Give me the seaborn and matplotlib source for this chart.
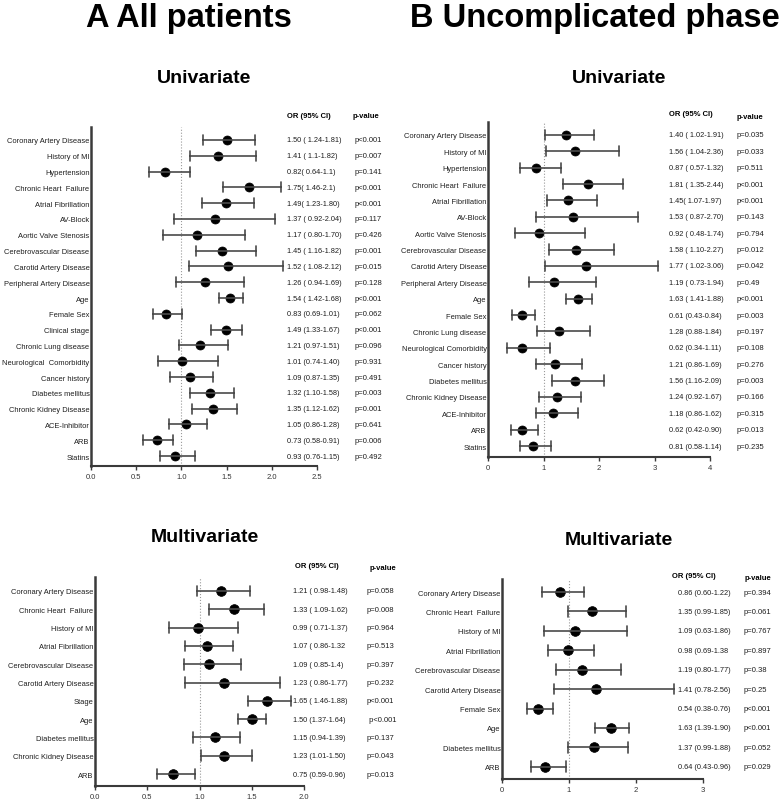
import numpy as np
import pandas as pd
import matplotlib
matplotlib.use("Agg")
import matplotlib.pyplot as plt
import matplotlib.transforms as mtransforms
import seaborn as sns

# A - All patients, univariate
a_uni_labels = ["Coronary Artery Disease", "History of MI", "Hypertension", "Chronic Heart  Failure",
                "Atrial Fibrillation", "AV-Block", "Aortic Valve Stenosis", "Cerebrovascular Disease",
                "Carotid Artery Disease", "Peripheral Artery Disease", "Age", "Female Sex", "Clinical stage",
                "Chronic Lung disease", "Neurological  Comorbidity", "Cancer history", "Diabetes mellitus",
                "Chronic Kidney Disease", "ACE-Inhibitor", "ARB", "Statins"]
a_uni_or = [1.50, 1.41, 0.82, 1.75, 1.49, 1.37, 1.17, 1.45, 1.52, 1.26, 1.54, 0.83, 1.49, 1.21, 1.01, 1.09,
            1.32, 1.35, 1.05, 0.73, 0.93]
a_uni_lo = [1.24, 1.10, 0.64, 1.46, 1.23, 0.92, 0.80, 1.16, 1.08, 0.94, 1.42, 0.69, 1.33, 0.97, 0.74, 0.87,
            1.10, 1.12, 0.86, 0.58, 0.76]
a_uni_hi = [1.81, 1.82, 1.10, 2.10, 1.80, 2.04, 1.70, 1.82, 2.12, 1.69, 1.68, 1.01, 1.67, 1.51, 1.40, 1.35,
            1.58, 1.62, 1.28, 0.91, 1.15]
a_uni_txt = ["1.50 ( 1.24-1.81)", "1.41 ( 1.1-1.82)", "0.82( 0.64-1.1)", "1.75( 1.46-2.1)", "1.49( 1.23-1.80)",
             "1.37 ( 0.92-2.04)", "1.17 ( 0.80-1.70)", "1.45 ( 1.16-1.82)", "1.52 ( 1.08-2.12)",
             "1.26 ( 0.94-1.69)", "1.54 ( 1.42-1.68)", "0.83 (0.69-1.01)", "1.49 (1.33-1.67)",
             "1.21 (0.97-1.51)", "1.01 (0.74-1.40)", "1.09 (0.87-1.35)", "1.32 (1.10-1.58)",
             "1.35 (1.12-1.62)", "1.05 (0.86-1.28)", "0.73 (0.58-0.91)", "0.93 (0.76-1.15)"]
a_uni_p = ["p<0.001", "p=0.007", "p=0.141", "p<0.001", "p<0.001", "p=0.117", "p=0.426", "p=0.001",
           "p=0.015", "p=0.128", "p<0.001", "p=0.062", "p<0.001", "p=0.096", "p=0.931", "p=0.491",
           "p=0.003", "p=0.001", "p=0.641", "p=0.006", "p=0.492"]

# B - Uncomplicated phase, univariate
b_uni_labels = ["Coronary Artery Disease", "History of MI", "Hypertension", "Chronic Heart  Failure",
                "Atrial Fibrillation", "AV-Block", "Aortic Valve Stenosis", "Cerebrovascular Disease",
                "Carotid Artery Disease", "Peripheral Artery Disease", "Age", "Female Sex",
                "Chronic Lung disease", "Neurological Comorbidity", "Cancer history", "Diabetes mellitus",
                "Chronic Kidney Disease", "ACE-Inhibitor", "ARB", "Statins"]
b_uni_or = [1.40, 1.56, 0.87, 1.81, 1.45, 1.53, 0.92, 1.58, 1.77, 1.19, 1.63, 0.61, 1.28, 0.62, 1.21, 1.56,
            1.24, 1.18, 0.62, 0.81]
b_uni_lo = [1.02, 1.04, 0.57, 1.35, 1.07, 0.87, 0.48, 1.10, 1.02, 0.73, 1.41, 0.43, 0.88, 0.34, 0.86, 1.16,
            0.92, 0.86, 0.42, 0.58]
b_uni_hi = [1.91, 2.36, 1.32, 2.44, 1.97, 2.70, 1.74, 2.27, 3.06, 1.94, 1.88, 0.84, 1.84, 1.11, 1.69, 2.09,
            1.67, 1.62, 0.90, 1.14]
b_uni_txt = ["1.40 ( 1.02-1.91)", "1.56 ( 1.04-2.36)", "0.87 ( 0.57-1.32)", "1.81 ( 1.35-2.44)",
             "1.45( 1.07-1.97)", "1.53 ( 0.87-2.70)", "0.92 ( 0.48-1.74)", "1.58 ( 1.10-2.27)",
             "1.77 ( 1.02-3.06)", "1.19 ( 0.73-1.94)", "1.63 ( 1.41-1.88)", "0.61 (0.43-0.84)",
             "1.28 (0.88-1.84)", "0.62 (0.34-1.11)", "1.21 (0.86-1.69)", "1.56 (1.16-2.09)",
             "1.24 (0.92-1.67)", "1.18 (0.86-1.62)", "0.62 (0.42-0.90)", "0.81 (0.58-1.14)"]
b_uni_p = ["p=0.035", "p=0.033", "p=0.511", "p<0.001", "p<0.001", "p=0.143", "p=0.794", "p=0.012",
           "p=0.042", "p=0.49", "p<0.001", "p=0.003", "p=0.197", "p=0.108", "p=0.276", "p=0.003",
           "p=0.166", "p=0.315", "p=0.013", "p=0.235"]

# A - All patients, multivariate
a_multi_labels = ["Coronary Artery Disease", "Chronic Heart  Failure", "History of MI", "Atrial Fibrillation",
                  "Cerebrovascular Disease", "Carotid Artery Disease", "Stage", "Age", "Diabetes mellitus",
                  "Chronic Kidney Disease", "ARB"]
a_multi_or = [1.21, 1.33, 0.99, 1.07, 1.09, 1.23, 1.65, 1.50, 1.15, 1.23, 0.75]
a_multi_lo = [0.98, 1.09, 0.71, 0.86, 0.85, 0.86, 1.46, 1.37, 0.94, 1.01, 0.59]
a_multi_hi = [1.48, 1.62, 1.37, 1.32, 1.40, 1.77, 1.88, 1.64, 1.39, 1.50, 0.96]
a_multi_txt = ["1.21 ( 0.98-1.48)", "1.33 ( 1.09-1.62)", "0.99 ( 0.71-1.37)", "1.07 ( 0.86-1.32",
               "1.09 ( 0.85-1.4)", "1.23 ( 0.86-1.77)", "1.65 ( 1.46-1.88)", "1.50 (1.37-1.64)",
               "1.15 (0.94-1.39)", "1.23 (1.01-1.50)", "0.75 (0.59-0.96)"]
a_multi_p = ["p=0.058", "p=0.008", "p=0.964", "p=0.513", "p=0.397", "p=0.232", "p<0.001", " p<0.001",
             "p=0.137", "p=0.043", "p=0.013"]

# B - Uncomplicated phase, multivariate
b_multi_labels = ["Coronary Artery Disease", "Chronic Heart  Failure", "History of MI", "Atrial Fibrillation",
                  "Cerebrovascular Disease", "Carotid Artery Disease", "Female Sex", "Age", "Diabetes mellitus",
                  "ARB"]
b_multi_or = [0.86, 1.35, 1.09, 0.98, 1.19, 1.41, 0.54, 1.63, 1.37, 0.64]
b_multi_lo = [0.60, 0.99, 0.63, 0.69, 0.80, 0.78, 0.38, 1.39, 0.99, 0.43]
b_multi_hi = [1.22, 1.85, 1.86, 1.38, 1.77, 2.56, 0.76, 1.90, 1.88, 0.96]
b_multi_txt = ["0.86 (0.60-1.22)", "1.35 (0.99-1.85)", "1.09 (0.63-1.86)", "0.98 (0.69-1.38",
               "1.19 (0.80-1.77)", "1.41 (0.78-2.56)", "0.54 (0.38-0.76)", "1.63 (1.39-1.90)",
               "1.37 (0.99-1.88)", "0.64 (0.43-0.96)"]
b_multi_p = ["p=0.394", "p=0.061", "p=0.767", "p=0.897", "p=0.38", "p=0.25", "p<0.001", "p<0.001",
             "p=0.052", "p=0.029"]

ticks_a_uni = [0.0, 0.5, 1.0, 1.5, 2.0, 2.5]
ticks_b_uni = [0, 1, 2, 3, 4]
ticks_a_multi = [0.0, 0.5, 1.0, 1.5, 2.0]
ticks_b_multi = [0, 1, 2, 3]

W, H = 784, 804
sns.set_style("ticks")
plt.rcParams['font.family'] = ['Liberation Sans', 'DejaVu Sans']

fig = plt.figure(figsize=(W / 100, H / 100), dpi=100)


def px_axes(left, right, top, bottom):
    return fig.add_axes([left / W, 1 - bottom / H, (right - left) / W, (bottom - top) / H])


def forest(ax, labels, ors, lo, hi, ticks, tick_fmt, ylim, txt, pvals, or_x, p_x, cap, mk):
    long = pd.DataFrame({
        "variable": np.repeat(labels, 3),
        "value": np.column_stack([lo, ors, hi]).ravel(),
    })
    # median of (lo, OR, hi) is the OR, full range is the CI
    sns.pointplot(data=long, x="value", y="variable", order=labels, orient="h",
                  estimator="median", errorbar=("pi", 100), color="black",
                  linestyle="none", markers="o", markersize=mk, markeredgewidth=0.5,
                  capsize=cap, err_kws={"linewidth": 1.2}, zorder=3, ax=ax)
    for ln in ax.lines:
        if ln.get_marker() in ("None", "", None, " "):
            ln.set_color("#4a4a4a")
            ln.set_linewidth(1.2)
    ax.axvline(1, color="#9a9a9a", ls=":", lw=0.8, zorder=1)
    ax.set_xlim(0, ticks[-1])
    ax.set_ylim(*ylim)
    ax.set_xticks(ticks)
    ax.set_xticklabels([tick_fmt.format(t) for t in ticks])
    ax.set_xlabel("")
    ax.set_ylabel("")
    sns.despine(ax=ax)
    ax.spines["left"].set_linewidth(1.8)
    ax.spines["left"].set_color("#3a3a3a")
    ax.spines["bottom"].set_linewidth(1.5)
    ax.spines["bottom"].set_color("#3a3a3a")
    ax.tick_params(axis="y", length=0, pad=1, labelsize=5.4, labelcolor="#1e1e1e")
    ax.tick_params(axis="x", length=3, width=1, color="#3a3a3a", pad=2, labelsize=5.5,
                   labelcolor="#333333")
    trans = mtransforms.blended_transform_factory(fig.transFigure, ax.transData)
    for i in range(len(labels)):
        ax.text(or_x / W, i, txt[i], transform=trans, fontsize=5.3, va="center", ha="left",
                color="#1e1e1e")
        ax.text(p_x / W, i, pvals[i], transform=trans, fontsize=5.5, va="center", ha="left",
                color="#1e1e1e")


def header(or_x, or_y, p_x, p_y):
    fig.text(or_x / W, 1 - or_y / H, "OR (95% CI)", fontsize=5.5, fontweight="bold", va="center",
             color="black")
    fig.text(p_x / W, 1 - p_y / H, "p-value", fontsize=5.5, fontweight="bold", va="center", color="black")


ax1 = px_axes(91, 317, 128, 467)
forest(ax1, a_uni_labels, a_uni_or, a_uni_lo, a_uni_hi, ticks_a_uni, "{:.1f}", (20.63, -0.82),
       a_uni_txt, a_uni_p, 287, 355, 0.64, 6.5)
header(287, 116, 353, 117)

ax2 = px_axes(488, 710, 123, 458)
forest(ax2, b_uni_labels, b_uni_or, b_uni_lo, b_uni_hi, ticks_b_uni, "{:d}", (19.67, -0.79),
       b_uni_txt, b_uni_p, 669, 737, 0.62, 6.5)
header(669, 114, 737, 118)

ax3 = px_axes(95, 304, 578, 787)
forest(ax3, a_multi_labels, a_multi_or, a_multi_lo, a_multi_hi, ticks_a_multi, "{:.1f}", (10.65, -0.76),
       a_multi_txt, a_multi_p, 293, 367, 0.58, 7)
header(295, 567, 370, 569)

ax4 = px_axes(502, 703, 580, 780)
forest(ax4, b_multi_labels, b_multi_or, b_multi_lo, b_multi_hi, ticks_b_multi, "{:d}", (9.63, -0.67),
       b_multi_txt, b_multi_p, 678, 744, 0.55, 7)
header(672, 577, 745, 579)

# titles
fig.text(189 / W, 1 - 27 / H, "A All patients", ha="center", va="baseline", fontsize=23.5,
         fontweight="bold", color="black")
fig.text(595 / W, 1 - 27 / H, "B Uncomplicated phase", ha="center", va="baseline", fontsize=23.5,
         fontweight="bold", color="black")
fig.text(204 / W, 1 - 83 / H, "Univariate", ha="center", va="baseline", fontsize=14, fontweight="bold",
         color="black")
fig.text(619 / W, 1 - 83 / H, "Univariate", ha="center", va="baseline", fontsize=14, fontweight="bold",
         color="black")
fig.text(205 / W, 1 - 542 / H, "Multivariate", ha="center", va="baseline", fontsize=14, fontweight="bold",
         color="black")
fig.text(619 / W, 1 - 545 / H, "Multivariate", ha="center", va="baseline", fontsize=14, fontweight="bold",
         color="black")

fig.savefig("out.png", dpi=100)
